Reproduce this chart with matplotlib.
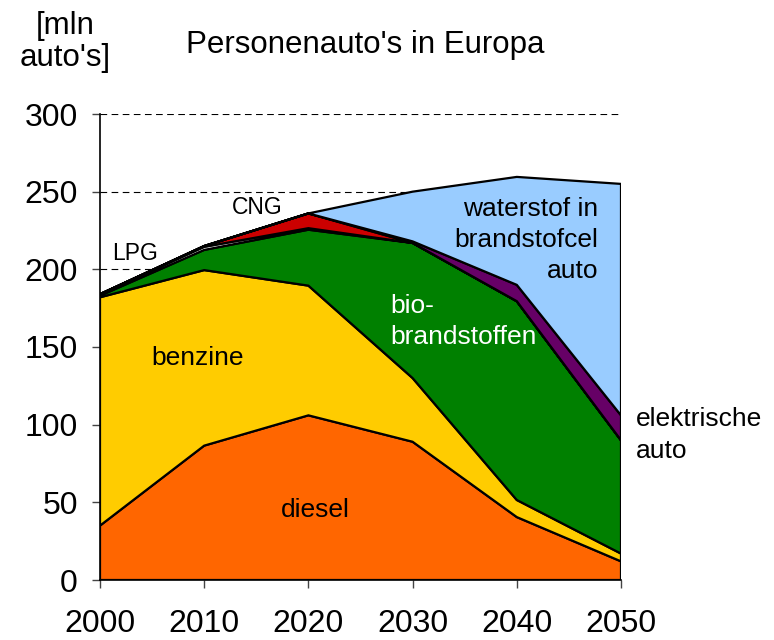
import matplotlib
matplotlib.use("Agg")
import matplotlib.pyplot as plt
import numpy as np

plt.rcParams['font.family'] = ['Liberation Sans', 'DejaVu Sans']

years = [2000, 2010, 2020, 2030, 2040, 2050]
diesel = [35, 86.5, 106, 89, 40.5, 12]
benzine = [147, 113, 83.5, 41, 11, 5]
bio = [1, 13, 36, 87, 128, 73]
lpg = [1, 2, 1, 0, 0, 0]
cng = [0, 0.5, 9.5, 0, 0, 0]
elektrisch = [0, 0, 0, 1, 10.5, 16]
waterstof = [0, 0, 0, 32, 69.5, 149]

series = [diesel, benzine, bio, lpg, cng, elektrisch, waterstof]
colors = ['#FF6600', '#FFCC00', '#008000', '#FFFFFF', '#CC0000', '#660066', '#99CCFF']

yticks = [0, 50, 100, 150, 200, 250, 300]

fig = plt.figure(figsize=(7.74, 6.4), dpi=100)
ax = fig.add_axes([100/774, 1-580/640, 521/774, 466/640])

for yv in yticks[1:]:
    ax.plot([years[0], years[-1]], [yv, yv], color='black', lw=0.8,
            dashes=(6, 4), zorder=0)

bottom = np.zeros(len(years))
for s, c in zip(series, colors):
    top = bottom + np.array(s)
    poly = np.concatenate([np.column_stack([years, top]),
                           np.column_stack([years[::-1], bottom[::-1]])])
    ax.fill(poly[:, 0], poly[:, 1], facecolor=c, edgecolor='black',
            linewidth=1.6, joinstyle='miter', zorder=2)
    bottom = top

ax.set_xlim(years[0], years[-1])
ax.set_ylim(0, 300)
ax.set_xticks(years)
ax.set_yticks(yticks)
ax.tick_params(axis='x', direction='out', length=6, width=1, pad=15,
               labelsize=23, color='#444444')
ax.tick_params(axis='y', direction='out', length=6, width=1, pad=10,
               labelsize=23, color='#444444')
for sp in ['top', 'right']:
    ax.spines[sp].set_visible(False)
ax.spines['left'].set_linewidth(1.2)
ax.spines['bottom'].set_linewidth(1.2)
ax.spines['left'].set_zorder(3)
ax.spines['bottom'].set_zorder(3)
ax.set_facecolor('none')

fs = 19
ax.text(2003.4, 210.5, 'LPG', fontsize=16.5, ha='center', va='center', zorder=5)
ax.text(2015.1, 239.5, 'CNG', fontsize=16.5, ha='center', va='center', zorder=5)
ax.text(2009.4, 143, 'benzine', fontsize=fs, ha='center', va='center', zorder=5)
ax.text(2020.7, 45, 'diesel', fontsize=fs, ha='center', va='center', zorder=5)
ax.text(2027.9, 166.5, 'bio-\nbrandstoffen', fontsize=fs, ha='left', va='center',
        color='white', linespacing=1.38, zorder=5)
ax.text(2047.8, 219, 'waterstof in\nbrandstofcel\nauto', fontsize=fs, ha='right',
        va='center', linespacing=1.38, multialignment='right', zorder=5)
ax.text(2051.4, 93.4, 'elektrische\nauto', fontsize=fs, ha='left', va='center',
        linespacing=1.42, clip_on=False, zorder=5)

fig.text(365/774, 1-45/640, "Personenauto's in Europa", fontsize=22.5,
         ha='center', va='center')
fig.text(65/774, 1-42/640, "[mln\nauto's]", fontsize=22.5, ha='center',
         va='center', linespacing=1.12)

fig.savefig('out.png', dpi=100)
